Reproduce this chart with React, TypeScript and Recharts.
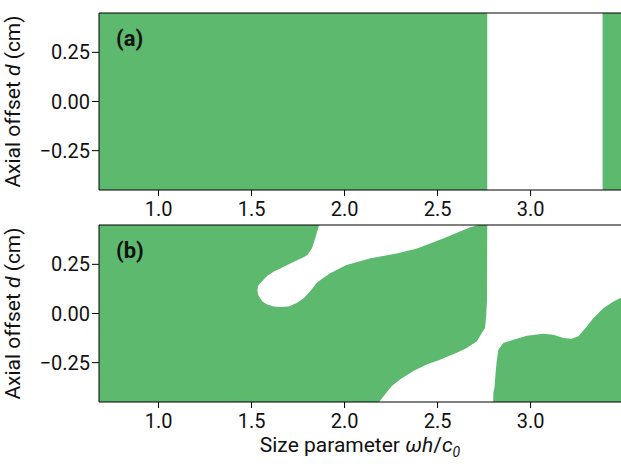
import React from 'react';
import { ComposedChart, Area, XAxis, YAxis, ReferenceLine, Label } from 'recharts';

const GREEN = '#5db96e';
const X_MIN = 0.68;
const X_MAX = 3.486;
const D_MIN = -0.45;
const D_MAX = 0.45;
const xTicks = [1.0, 1.5, 2.0, 2.5, 3.0];
const dTicks = [-0.25, 0, 0.25];

// panel (a): size parameters where the region is absent
const gapA = [2.767, 3.387];

// panel (b): hole coming down from the top edge
const fingerX = [1.532, 1.535, 1.545, 1.56, 1.585, 1.62, 1.655, 1.7, 1.745, 1.78, 1.8, 1.825, 1.845, 1.86, 1.865, 1.92, 2.01, 2.14, 2.28, 2.39, 2.53, 2.675, 2.72];
const fingerLow = [0.12, 0.095, 0.08, 0.06, 0.046, 0.036, 0.033, 0.036, 0.055, 0.077, 0.097, 0.125, 0.15, 0.163, 0.167, 0.203, 0.246, 0.281, 0.305, 0.331, 0.381, 0.439, 0.45];
const fingerHigh = [0.12, 0.14, 0.152, 0.168, 0.192, 0.213, 0.229, 0.25, 0.271, 0.286, 0.298, 0.332, 0.39, 0.44, 0.45, 0.45, 0.45, 0.45, 0.45, 0.45, 0.45, 0.45, 0.45];

// panel (b): lower band joined to the right-hand hole
const rightX = [2.185, 2.191, 2.218, 2.254, 2.298, 2.37, 2.442, 2.513, 2.603, 2.657, 2.711, 2.738, 2.755, 2.761, 2.766, 2.767, 2.799, 2.8, 2.806, 2.812, 2.818, 2.827, 2.854, 2.908, 2.98, 3.069, 3.123, 3.176, 3.221, 3.257, 3.302, 3.338, 3.391, 3.445, 3.486];
const rightLow = [-0.45, -0.45, -0.45, -0.45, -0.45, -0.45, -0.45, -0.45, -0.45, -0.45, -0.45, -0.45, -0.45, -0.45, -0.45, -0.45, -0.45, -0.4, -0.377, -0.3, -0.242, -0.183, -0.15, -0.133, -0.113, -0.103, -0.108, -0.124, -0.129, -0.116, -0.066, -0.023, 0.027, 0.061, 0.08];
const rightHigh = [-0.45, -0.444, -0.411, -0.369, -0.336, -0.293, -0.259, -0.235, -0.2, -0.175, -0.141, -0.099, -0.074, -0.015, 0.069, 0.45, 0.45, 0.45, 0.45, 0.45, 0.45, 0.45, 0.45, 0.45, 0.45, 0.45, 0.45, 0.45, 0.45, 0.45, 0.45, 0.45, 0.45, 0.45, 0.45];

const toRange = (xs: number[], lo: number[], hi: number[]) => xs.map((x, i) => ({ x, r: [lo[i], hi[i]] }));

const fullData = toRange([X_MIN, X_MAX], [D_MIN, D_MIN], [D_MAX, D_MAX]);
const holesA = [toRange(gapA, [D_MIN, D_MIN], [D_MAX, D_MAX])];
const holesB = [toRange(fingerX, fingerLow, fingerHigh), toRange(rightX, rightLow, rightHigh)];

const fmtD = (v: number) => (v < 0 ? '\u2212' : '') + Math.abs(v).toFixed(2);

const YTitle = (props: any) => {
  const vb = props.viewBox || { x: 0, y: 0, width: 0, height: 0 };
  const cx = vb.x + 20;
  const cy = vb.y + vb.height / 2;
  return (
    <text x={cx} y={cy} transform={`rotate(-90 ${cx} ${cy})`} textAnchor="middle" fontSize={21} fill="#111">
      Axial offset{' '}
      <tspan fontStyle="italic">d</tspan>
      {' '}(cm)
    </text>
  );
};

const XTitle = (props: any) => {
  const vb = props.viewBox || { x: 0, y: 0, width: 0, height: 0 };
  return (
    <text x={vb.x + vb.width / 2} y={vb.y + 50} textAnchor="middle" fontSize={21} fill="#111">
      Size parameter{' '}
      <tspan fontStyle="italic">ωh</tspan>
      /
      <tspan fontStyle="italic">c</tspan>
      <tspan fontStyle="italic" fontSize={14} dy={5}>0</tspan>
    </text>
  );
};

interface PanelProps {
  top: number;
  height: number;
  tag: string;
  holes: { x: number; r: number[] }[][];
  xTitle?: boolean;
}

function Panel({ top, height, tag, holes, xTitle }: PanelProps) {
  const plotTop = 13;
  const plotH = 177;
  return (
    <div style={{ position: 'absolute', left: 0, top, width: 621, height }}>
      <ComposedChart width={621} height={height} margin={{ top: plotTop, right: 0, bottom: 0, left: 0 }}>
        <XAxis
          type="number"
          dataKey="x"
          domain={[X_MIN, X_MAX]}
          allowDataOverflow
          ticks={xTicks}
          interval={0}
          tickFormatter={(v: number) => v.toFixed(1)}
          height={height - plotTop - plotH}
          tickSize={6}
          tickMargin={6}
          stroke="#000"
          tick={{ fill: '#111', fontSize: 20 }}
        >
          {xTitle && <Label content={XTitle} />}
        </XAxis>
        <YAxis
          type="number"
          domain={[D_MIN, D_MAX]}
          allowDataOverflow
          ticks={dTicks}
          interval={0}
          width={99}
          tickSize={7}
          tickMargin={2}
          tickFormatter={fmtD}
          stroke="#000"
          tick={{ fill: '#111', fontSize: 20 }}
        >
          <Label content={YTitle} />
        </YAxis>
        <Area data={fullData} dataKey="r" type="linear" fill={GREEN} fillOpacity={1} stroke="none" activeDot={false} isAnimationActive={false} />
        {holes.map((h, i) => (
          <Area key={i} data={h} dataKey="r" type="linear" fill="#ffffff" fillOpacity={1} stroke="none" activeDot={false} isAnimationActive={false} />
        ))}
        <ReferenceLine y={D_MAX} stroke="#000" />
      </ComposedChart>
      <svg style={{ position: 'absolute', left: 0, top: 0, pointerEvents: 'none' }} width={621} height={80}>
        <text x={116} y={plotTop + 33} fontSize={22} fontWeight="bold" fill="#111">({tag})</text>
      </svg>
    </div>
  );
}

export default function App() {
  return (
    <div style={{ position: 'absolute', left: 0, top: 0, width: 621, height: 466, background: '#fff', fontFamily: 'Roboto, sans-serif' }}>
      <Panel top={0} height={222} tag="a" holes={holesA} />
      <Panel top={212} height={254} tag="b" holes={holesB} xTitle />
    </div>
  );
}
